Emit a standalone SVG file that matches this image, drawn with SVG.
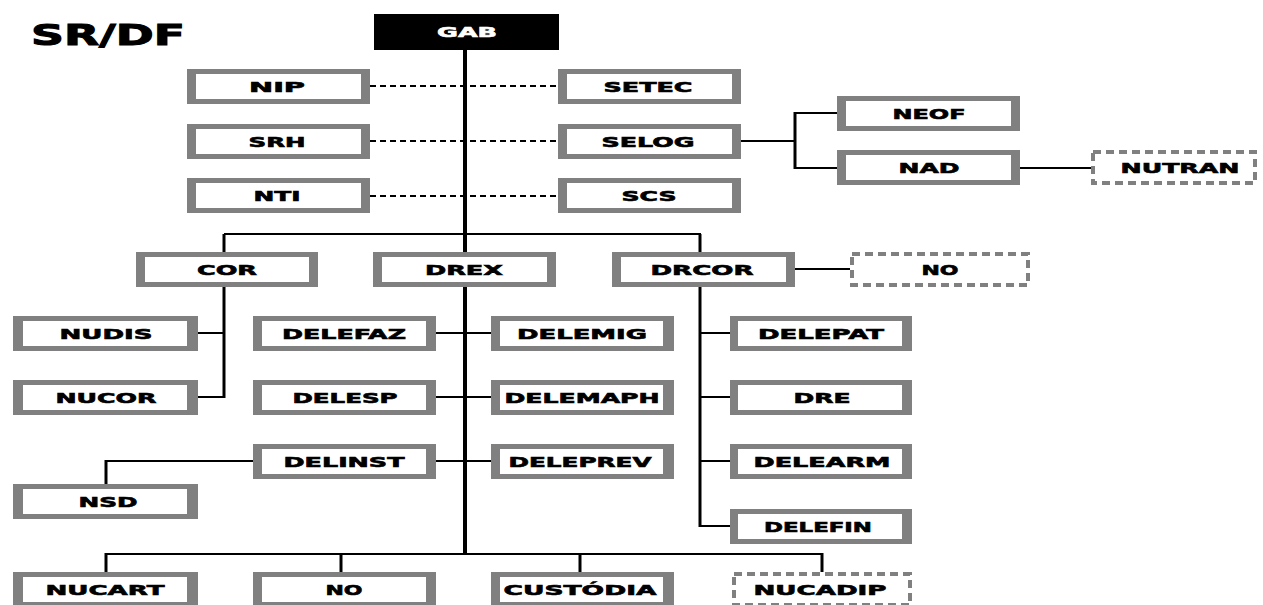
<svg xmlns="http://www.w3.org/2000/svg" width="1263" height="605" viewBox="0 0 1263 605">
<style>
.o{fill:#808080}
.i{fill:#fff}
.d{fill:#fff;stroke:#808080;stroke-width:4;stroke-dasharray:8 5}
.t{font-family:"DejaVu Sans","Liberation Sans",sans-serif;font-weight:bold;font-size:14px;fill:#000;stroke:#000;stroke-width:0.6;text-anchor:middle}
.t.w{fill:#fff;stroke:#fff}
.l{stroke:#000;stroke-width:2;fill:none}
.l3{stroke:#000;stroke-width:3;fill:none}
.dl{stroke:#000;stroke-width:2;stroke-dasharray:6 4;fill:none}
</style>
<rect width="1263" height="605" fill="#fff"/>
<text x="31" y="45" font-family="DejaVu Sans,Liberation Sans,sans-serif" font-weight="bold" font-size="28" stroke="#000" stroke-width="1" textLength="154" lengthAdjust="spacingAndGlyphs">SR/DF</text>
<g id="connectors">
<line class="dl" x1="370" y1="86" x2="558" y2="86"/>
<line class="dl" x1="370" y1="141" x2="558" y2="141"/>
<line class="dl" x1="370" y1="196" x2="558" y2="196"/>
<line x1="465" y1="50" x2="465" y2="555" stroke="#000" stroke-width="4"/>
<line class="l" x1="224" y1="234" x2="701" y2="234"/>
<line class="l3" x1="224" y1="234" x2="224" y2="252"/>
<line class="l3" x1="700" y1="234" x2="700" y2="252"/>
<line class="l3" x1="224" y1="287" x2="224" y2="398"/>
<line class="l" x1="198" y1="333" x2="224" y2="333"/>
<line class="l" x1="198" y1="397" x2="224" y2="397"/>
<line class="l" x1="436" y1="333" x2="491" y2="333"/>
<line class="l" x1="436" y1="397" x2="491" y2="397"/>
<line class="l" x1="436" y1="461" x2="491" y2="461"/>
<path class="l" d="M253,461 H106"/>
<line class="l3" x1="106" y1="460" x2="106" y2="484"/>
<line class="l" x1="105" y1="554" x2="823" y2="554"/>
<line class="l3" x1="106" y1="553" x2="106" y2="572"/>
<line class="l3" x1="341" y1="553" x2="341" y2="572"/>
<line class="l3" x1="580" y1="553" x2="580" y2="572"/>
<line class="l3" x1="822" y1="553" x2="822" y2="572"/>
<line class="l3" x1="700" y1="287" x2="700" y2="527"/>
<line class="l" x1="700" y1="333" x2="730" y2="333"/>
<line class="l" x1="700" y1="397" x2="730" y2="397"/>
<line class="l" x1="700" y1="461" x2="730" y2="461"/>
<line class="l" x1="699" y1="526" x2="730" y2="526"/>
<line class="l" x1="795" y1="269" x2="850" y2="269"/>
<line class="l" x1="741" y1="141" x2="795" y2="141"/>
<line class="l3" x1="795" y1="112" x2="795" y2="169"/>
<line class="l" x1="795" y1="113" x2="837" y2="113"/>
<line class="l" x1="795" y1="168" x2="837" y2="168"/>
<line class="l" x1="1020" y1="168" x2="1091" y2="168"/>
</g>
<g id="gab"><rect x="374" y="14" width="185" height="36" fill="#000"/><text class="t w" x="467" y="37" textLength="60" lengthAdjust="spacingAndGlyphs">GAB</text></g>
<g id="nip"><rect class="o" x="187" y="69" width="183" height="35"/><rect class="i" x="196" y="74" width="165" height="25"/><text class="t" x="277" y="91.5" textLength="56" lengthAdjust="spacingAndGlyphs">NIP</text></g>
<g id="srh"><rect class="o" x="187" y="124" width="183" height="35"/><rect class="i" x="196" y="129" width="165" height="25"/><text class="t" x="277" y="146.5" textLength="57" lengthAdjust="spacingAndGlyphs">SRH</text></g>
<g id="nti"><rect class="o" x="187" y="178" width="183" height="35"/><rect class="i" x="196" y="183" width="165" height="25"/><text class="t" x="277" y="200.5" textLength="47" lengthAdjust="spacingAndGlyphs">NTI</text></g>
<g id="setec"><rect class="o" x="558" y="69" width="183" height="35"/><rect class="i" x="567" y="74" width="165" height="25"/><text class="t" x="648" y="91.5" textLength="89" lengthAdjust="spacingAndGlyphs">SETEC</text></g>
<g id="selog"><rect class="o" x="558" y="124" width="183" height="35"/><rect class="i" x="567" y="129" width="165" height="25"/><text class="t" x="648" y="146.5" textLength="93" lengthAdjust="spacingAndGlyphs">SELOG</text></g>
<g id="scs"><rect class="o" x="558" y="178" width="183" height="35"/><rect class="i" x="567" y="183" width="165" height="25"/><text class="t" x="649" y="200.5" textLength="55" lengthAdjust="spacingAndGlyphs">SCS</text></g>
<g id="neof"><rect class="o" x="837" y="96" width="183" height="35"/><rect class="i" x="846" y="101" width="165" height="25"/><text class="t" x="929" y="118.5" textLength="73" lengthAdjust="spacingAndGlyphs">NEOF</text></g>
<g id="nad"><rect class="o" x="837" y="150" width="183" height="35"/><rect class="i" x="846" y="155" width="165" height="25"/><text class="t" x="929" y="172.5" textLength="61" lengthAdjust="spacingAndGlyphs">NAD</text></g>
<g id="nutran"><rect class="d" x="1093" y="152" width="162" height="31"/><text class="t" x="1180" y="172.5" textLength="119" lengthAdjust="spacingAndGlyphs">NUTRAN</text></g>
<g id="cor"><rect class="o" x="136" y="252" width="182" height="35"/><rect class="i" x="145" y="257" width="164" height="25"/><text class="t" x="227" y="274.5" textLength="60" lengthAdjust="spacingAndGlyphs">COR</text></g>
<g id="drex"><rect class="o" x="373" y="252" width="183" height="35"/><rect class="i" x="382" y="257" width="165" height="25"/><text class="t" x="464" y="274.5" textLength="78" lengthAdjust="spacingAndGlyphs">DREX</text></g>
<g id="drcor"><rect class="o" x="612" y="252" width="183" height="35"/><rect class="i" x="621" y="257" width="165" height="25"/><text class="t" x="702" y="274.5" textLength="103" lengthAdjust="spacingAndGlyphs">DRCOR</text></g>
<g id="no-drcor"><rect class="d" x="852" y="254" width="176" height="31"/><text class="t" x="940" y="274.5" textLength="37" lengthAdjust="spacingAndGlyphs">NO</text></g>
<g id="nudis"><rect class="o" x="13" y="316" width="185" height="35"/><rect class="i" x="23" y="321" width="164" height="25"/><text class="t" x="106" y="338.5" textLength="93" lengthAdjust="spacingAndGlyphs">NUDIS</text></g>
<g id="nucor"><rect class="o" x="13" y="380" width="185" height="35"/><rect class="i" x="23" y="385" width="164" height="25"/><text class="t" x="106" y="402.5" textLength="101" lengthAdjust="spacingAndGlyphs">NUCOR</text></g>
<g id="delefaz"><rect class="o" x="253" y="316" width="183" height="35"/><rect class="i" x="262" y="321" width="164" height="25"/><text class="t" x="344" y="338.5" textLength="124" lengthAdjust="spacingAndGlyphs">DELEFAZ</text></g>
<g id="delesp"><rect class="o" x="253" y="380" width="183" height="35"/><rect class="i" x="262" y="385" width="164" height="25"/><text class="t" x="345" y="402.5" textLength="105" lengthAdjust="spacingAndGlyphs">DELESP</text></g>
<g id="delinst"><rect class="o" x="253" y="444" width="183" height="35"/><rect class="i" x="262" y="449" width="164" height="25"/><text class="t" x="344" y="466.5" textLength="121" lengthAdjust="spacingAndGlyphs">DELINST</text></g>
<g id="nsd"><rect class="o" x="13" y="484" width="185" height="35"/><rect class="i" x="23" y="489" width="164" height="25"/><text class="t" x="108" y="506.5" textLength="59" lengthAdjust="spacingAndGlyphs">NSD</text></g>
<g id="delemig"><rect class="o" x="491" y="316" width="183" height="35"/><rect class="i" x="500" y="321" width="163" height="25"/><text class="t" x="582" y="338.5" textLength="130" lengthAdjust="spacingAndGlyphs">DELEMIG</text></g>
<g id="delemaph"><rect class="o" x="491" y="380" width="183" height="35"/><rect class="i" x="500" y="385" width="163" height="25"/><text class="t" x="582" y="402.5" textLength="155" lengthAdjust="spacingAndGlyphs">DELEMAPH</text></g>
<g id="deleprev"><rect class="o" x="491" y="444" width="183" height="35"/><rect class="i" x="500" y="449" width="163" height="25"/><text class="t" x="580" y="466.5" textLength="143" lengthAdjust="spacingAndGlyphs">DELEPREV</text></g>
<g id="delepat"><rect class="o" x="730" y="316" width="182" height="35"/><rect class="i" x="738" y="321" width="164" height="25"/><text class="t" x="821" y="338.5" textLength="126" lengthAdjust="spacingAndGlyphs">DELEPAT</text></g>
<g id="dre"><rect class="o" x="730" y="380" width="182" height="35"/><rect class="i" x="738" y="385" width="164" height="25"/><text class="t" x="822" y="402.5" textLength="57" lengthAdjust="spacingAndGlyphs">DRE</text></g>
<g id="delearm"><rect class="o" x="730" y="444" width="182" height="35"/><rect class="i" x="738" y="449" width="164" height="25"/><text class="t" x="822" y="466.5" textLength="137" lengthAdjust="spacingAndGlyphs">DELEARM</text></g>
<g id="delefin"><rect class="o" x="730" y="509" width="182" height="35"/><rect class="i" x="738" y="514" width="164" height="25"/><text class="t" x="818" y="531.5" textLength="108" lengthAdjust="spacingAndGlyphs">DELEFIN</text></g>
<g id="nucart"><rect class="o" x="13" y="572" width="185" height="35"/><rect class="i" x="23" y="577" width="164" height="25"/><text class="t" x="105" y="594.5" textLength="119" lengthAdjust="spacingAndGlyphs">NUCART</text></g>
<g id="no-bottom"><rect class="o" x="253" y="572" width="183" height="35"/><rect class="i" x="262" y="577" width="164" height="25"/><text class="t" x="344" y="594.5" textLength="37" lengthAdjust="spacingAndGlyphs">NO</text></g>
<g id="custodia"><rect class="o" x="491" y="572" width="183" height="35"/><rect class="i" x="500" y="577" width="163" height="25"/><text class="t" x="580" y="594.5" textLength="153" lengthAdjust="spacingAndGlyphs">CUSTÓDIA</text></g>
<g id="nucadip"><rect class="d" x="734" y="574" width="176" height="31"/><text class="t" x="820" y="594.5" textLength="133" lengthAdjust="spacingAndGlyphs">NUCADIP</text></g>
</svg>
